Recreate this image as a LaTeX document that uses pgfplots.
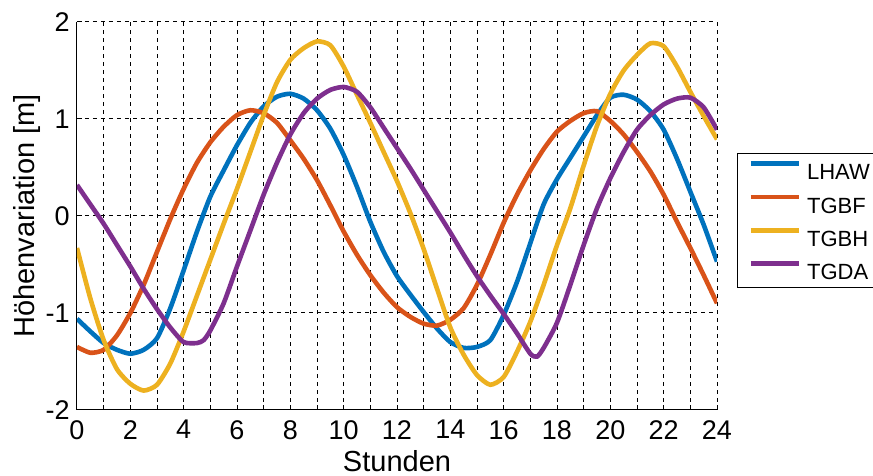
\documentclass[border=0pt]{standalone}
\usepackage{fontspec}
\setmainfont{Liberation Sans}
\usepackage{pgfplots}
\pgfplotsset{compat=1.18}
\definecolor{mblue}{rgb}{0,0.447,0.741}
\definecolor{mred}{rgb}{0.85,0.325,0.098}
\definecolor{myellow}{rgb}{0.929,0.694,0.125}
\definecolor{mpurple}{rgb}{0.494,0.184,0.556}
\begin{document}
\begin{tikzpicture}
\begin{axis}[
  name=ax, at={(0,0)}, anchor=south west,
  scale only axis, width=320pt, height=194pt,
  xmin=0, xmax=24, ymin=-2, ymax=2,
  xtick={0,2,...,24}, minor xtick={1,3,...,23},
  ytick={-2,-1,0,1,2},
  axis x line*=bottom, axis y line*=left,
  axis line style={black, line width=0.5pt},
  xmajorgrids, xminorgrids, ymajorgrids,
  grid style={black, line width=0.5pt, dash pattern=on 2pt off 2pt},
  minor grid style={black, line width=0.5pt, dash pattern=on 2pt off 2pt},
  tick align=inside, major tick length=2.5pt, minor tick length=2.5pt,
  tick style={black, line width=0.5pt},
  /pgf/number format/assume math mode=true,
  ticklabel style={font=\fontsize{13.5}{16}\selectfont, inner sep=0pt},
  xticklabel style={yshift=-5pt},
  yticklabel style={xshift=-3.5pt},
  xlabel={Stunden}, ylabel={Höhenvariation [m]},
  label style={font=\fontsize{14.5}{17}\selectfont},
  xlabel style={at={(axis description cs:0.5,0)}, anchor=base, yshift=-31pt},
  ylabel style={at={(axis description cs:-0.078125,0.5)}, anchor=center},
  legend style={at={(1.03125,0.6624)}, anchor=north west, draw=black, line width=0.5pt,
    font=\fontsize{11}{13}\selectfont, inner xsep=5.5pt, inner ysep=4pt,
    row sep=7.5pt, column sep=3pt, nodes={inner sep=0pt, text height=8pt, text depth=0pt}},
  legend cell align=left,
  legend image code/.code={\draw[#1] (0pt,4pt) -- (24pt,4pt);},
  every axis plot/.append style={line width=2.3pt, smooth, tension=0.4},
]
\addplot[mblue] coordinates {
(0,-1.06) (0.5,-1.19) (1,-1.31) (1.5,-1.38) (2,-1.42) (2.5,-1.38) (3,-1.26) (3.5,-0.95)
(4,-0.56) (4.5,-0.16) (5,0.20) (5.5,0.47) (6,0.73) (6.5,0.96) (7,1.13) (7.5,1.23)
(8,1.26) (8.5,1.21) (9,1.09) (9.5,0.90) (10,0.63) (10.5,0.30) (11,-0.06) (11.5,-0.37)
(12,-0.62) (12.5,-0.81) (13,-0.99) (13.5,-1.16) (14,-1.30) (14.5,-1.36) (15,-1.35) (15.5,-1.28)
(16,-1.02) (16.5,-0.68) (17,-0.28) (17.5,0.12) (18,0.38) (18.5,0.60) (19,0.82) (19.5,1.04)
(20,1.22) (20.5,1.25) (21,1.20) (21.5,1.08) (22,0.89) (22.5,0.59) (23,0.25) (23.5,-0.09) (24,-0.47)
};
\addlegendentry{LHAW}
\addplot[mred] coordinates {
(0,-1.35) (0.5,-1.41) (1,-1.38) (1.5,-1.23) (2,-1.00) (2.5,-0.71) (3,-0.37) (3.5,-0.03)
(4,0.28) (4.5,0.55) (5,0.76) (5.5,0.92) (6,1.04) (6.5,1.09) (7,1.06) (7.5,0.96)
(8,0.78) (8.5,0.59) (9,0.37) (9.5,0.11) (10,-0.16) (10.5,-0.40) (11,-0.61) (11.5,-0.79)
(12,-0.94) (12.5,-1.04) (13,-1.11) (13.5,-1.13) (14,-1.07) (14.5,-0.95) (15,-0.71) (15.5,-0.40)
(16,-0.07) (16.5,0.22) (17,0.47) (17.5,0.69) (18,0.87) (18.5,0.98) (19,1.06) (19.5,1.08)
(20,0.98) (20.5,0.84) (21,0.66) (21.5,0.46) (22,0.22) (22.5,-0.06) (23,-0.33) (23.5,-0.61) (24,-0.90)
};
\addlegendentry{TGBF}
\addplot[myellow] coordinates {
(0,-0.33) (0.5,-0.85) (1,-1.28) (1.5,-1.58) (2,-1.73) (2.5,-1.80) (3,-1.74) (3.5,-1.52)
(4,-1.19) (4.5,-0.82) (5,-0.45) (5.5,-0.08) (6,0.28) (6.5,0.66) (7,1.04) (7.5,1.38)
(8,1.61) (8.5,1.73) (9,1.80) (9.5,1.76) (10,1.54) (10.5,1.25) (11,0.96) (11.5,0.66)
(12,0.36) (12.5,0.03) (13,-0.34) (13.5,-0.75) (14,-1.15) (14.5,-1.43) (15,-1.64) (15.5,-1.74)
(16,-1.66) (16.5,-1.40) (17,-1.09) (17.5,-0.71) (18,-0.30) (18.5,0.08) (19,0.52) (19.5,0.93)
(20,1.26) (20.5,1.50) (21,1.66) (21.5,1.78) (22,1.75) (22.5,1.54) (23,1.28) (23.5,1.03) (24,0.79)
};
\addlegendentry{TGBH}
\addplot[mpurple] coordinates {
(0,0.32) (0.5,0.12) (1,-0.08) (1.5,-0.30) (2,-0.52) (2.5,-0.75) (3,-0.96) (3.5,-1.15)
(4,-1.30) (4.5,-1.31) (4.75,-1.28) (5,-1.18) (5.5,-0.90) (6,-0.52) (6.5,-0.15) (7,0.22) (7.5,0.55)
(8,0.84) (8.5,1.06) (9,1.21) (9.5,1.30) (10,1.33) (10.5,1.28) (11,1.12) (11.5,0.91)
(12,0.70) (12.5,0.49) (13,0.27) (13.5,0.05) (14,-0.17) (14.5,-0.40) (15,-0.62) (15.5,-0.82)
(16,-1.01) (16.5,-1.21) (17,-1.42) (17.25,-1.45) (17.5,-1.36) (18,-1.10) (18.5,-0.71) (19,-0.30) (19.5,0.08)
(20,0.39) (20.5,0.66) (21,0.89) (21.5,1.04) (22,1.15) (22.5,1.21) (23,1.22) (23.5,1.12) (24,0.89)
};
\addlegendentry{TGDA}
\end{axis}
\pgfresetboundingbox
\useasboundingbox ([xshift=-38.5pt,yshift=-33pt]ax.south west) rectangle ([xshift=78pt,yshift=11pt]ax.north east);
\end{tikzpicture}
\end{document}
